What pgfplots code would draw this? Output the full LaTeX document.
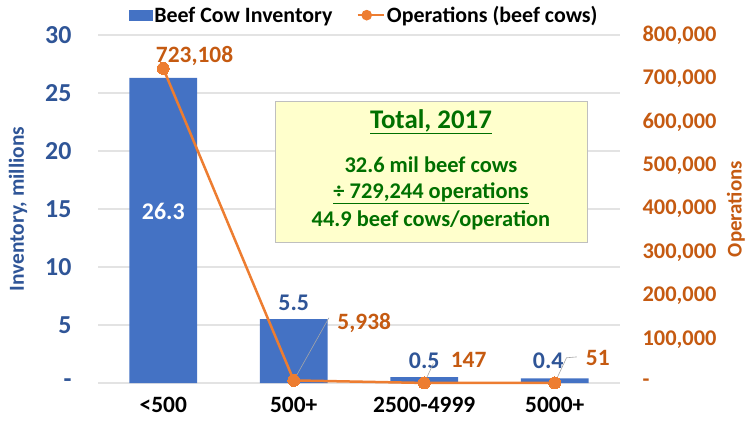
\documentclass[border=0pt]{standalone}
\usepackage{pgfplots}
\pgfplotsset{compat=1.18}
\usepackage{fontspec}
\setmainfont{Carlito}
\definecolor{barblue}{HTML}{4472C4}
\definecolor{tickblue}{HTML}{2F5597}
\definecolor{lineor}{HTML}{ED7D31}
\definecolor{tickor}{HTML}{C55A11}
\definecolor{boxgreen}{HTML}{007000}
\definecolor{boxfill}{HTML}{FFFFCC}
\definecolor{gridgray}{HTML}{E3E3E3}
\definecolor{leader}{HTML}{A6A6A6}
\begin{document}
\begin{tikzpicture}[x=1bp,y=1bp]
\path[use as bounding box] (-98,-42) rectangle (652,383);
\begin{axis}[
  at={(0,0)}, anchor=south west, scale only axis,
  width=522bp, height=348bp,
  xmin=-0.5, xmax=3.5, ymin=0, ymax=30,
  axis line style={draw=none}, major tick length=0pt,
  xtick={0,1,2,3}, xticklabels={{<500},{500+},{2500-4999},{5000+}},
  ytick={0,5,10,15,20,25,30}, yticklabels={-,5,10,15,20,25,30},
  ymajorgrids, grid style={gridgray, line width=1.2bp},
  yticklabel style={font=\fontsize{26}{30}\selectfont\bfseries, text=tickblue, anchor=east, xshift=-23bp},
  xticklabel style={font=\fontsize{23.5}{27}\selectfont\bfseries, text=black, anchor=north, yshift=-11bp},
  ylabel={Inventory, millions},
  ylabel style={font=\fontsize{21.5}{25}\selectfont\bfseries, text=tickblue, at={(axis description cs:-0.153,0.5)}, rotate=0, anchor=center},
  clip=false,
]
\addplot[ybar, bar width=0.52, fill=barblue, draw=none] coordinates {(0,26.3) (1,5.5) (2,0.5) (3,0.4)};
\node[text=white, font=\fontsize{24}{28}\selectfont\bfseries] at (axis cs:0,14.8) {26.3};
\node[text=tickblue, font=\fontsize{24}{28}\selectfont\bfseries] at (axis cs:1,6.95) {5.5};
\node[text=tickblue, font=\fontsize{24}{28}\selectfont\bfseries] at (axis cs:2,1.95) {0.5};
\node[text=tickblue, font=\fontsize{24}{28}\selectfont\bfseries] at (axis cs:2.95,1.95) {0.4};
\end{axis}
\begin{axis}[
  at={(0,0)}, anchor=south west, scale only axis,
  width=522bp, height=348bp,
  xmin=-0.5, xmax=3.5, ymin=0, ymax=800000,
  axis line style={draw=none}, major tick length=0pt,
  xtick=\empty, axis y line*=right, axis x line=none,
  scaled y ticks=false,
  ytick={0,100000,200000,300000,400000,500000,600000,700000,800000},
  yticklabels={-,{100,000},{200,000},{300,000},{400,000},{500,000},{600,000},{700,000},{800,000}},
  yticklabel style={font=\fontsize{22.5}{26}\selectfont\bfseries, text=tickor, anchor=west, xshift=19bp},
  ylabel={Operations},
  ylabel style={font=\fontsize{21}{25}\selectfont\bfseries, text=tickor, at={(axis description cs:1.222,0.5)}, rotate=0, anchor=center, inner sep=0pt},
  legend columns=2,
  legend style={at={(axis description cs:0.51,1.057)}, anchor=center, draw=none, fill=none,
    font=\fontsize{22}{26}\selectfont\bfseries,
    /tikz/every even column/.append style={column sep=22bp}},
  clip=false,
]
\addlegendimage{legend image code/.code={\fill[barblue] (0bp,-5bp) rectangle (23bp,5bp);}}
\addlegendentry{Beef Cow Inventory}
\draw[leader, line width=0.6bp] (axis cs:1,5938) -- (axis cs:1.27,150000);
\draw[leader, line width=0.6bp] (axis cs:2,147) -- (axis cs:2.07,45000);
\draw[leader, line width=0.6bp] (axis cs:3,51) -- (axis cs:3.09,58000) -- (axis cs:3.17,60000);
\addplot[lineor, line width=2.5bp, mark=*, mark size=6bp, mark options={fill=lineor, draw=lineor, line width=0pt},
  legend image code/.code={\draw[lineor, line width=2.5bp] (0bp,0bp) -- (26bp,0bp); \fill[lineor] (9bp,0bp) circle (4bp);}]
  coordinates {(0,723108) (1,5938) (2,147) (3,51)};
\addlegendentry{Operations (beef cows)}
\node[text=tickor, font=\fontsize{23.5}{27}\selectfont\bfseries] at (axis cs:0.24,751000) {723,108};
\node[text=tickor, font=\fontsize{23.5}{27}\selectfont\bfseries] at (axis cs:1.54,138000) {5,938};
\node[text=tickor, font=\fontsize{23.5}{27}\selectfont\bfseries] at (axis cs:2.34,52000) {147};
\node[text=tickor, font=\fontsize{23.5}{27}\selectfont\bfseries] at (axis cs:3.33,57000) {51};
\node[draw=black!25, fill=boxfill, minimum width=312bp, minimum height=141bp, inner sep=0pt] at (rel axis cs:0.6379,0.6078) {};
\node[text=boxgreen, font=\fontsize{27}{31}\selectfont\bfseries] at (rel axis cs:0.6379,0.75) {\underline{Total, 2017}};
\node[text=boxgreen, font=\fontsize{22.5}{26}\selectfont\bfseries] at (rel axis cs:0.6379,0.626) {32.6 mil beef cows};
\node[text=boxgreen, font=\fontsize{22.5}{26}\selectfont\bfseries] at (rel axis cs:0.6379,0.546) {\underline{÷ 729,244 operations}};
\node[text=boxgreen, font=\fontsize{22.5}{26}\selectfont\bfseries] at (rel axis cs:0.6379,0.466) {44.9 beef cows/operation};
\end{axis}
\end{tikzpicture}
\end{document}
